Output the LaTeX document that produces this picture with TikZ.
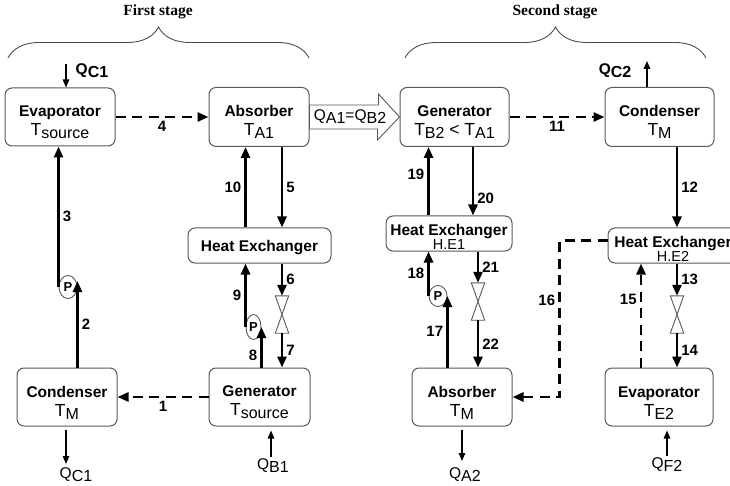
\documentclass[tikz,border=0pt]{standalone}
\usepackage{fontspec}
\setmainfont{Liberation Sans}
\newfontfamily\stagefont{Liberation Serif}
\usetikzlibrary{shapes.geometric, arrows.meta}
\usetikzlibrary{positioning}
\usetikzlibrary{decorations.pathreplacing}
\tikzstyle{unit} = [rectangle, rounded corners=7pt, draw=black!65, line width=1pt, align=center,
inner sep=0pt, font=\fontsize{17.5}{19}\selectfont]
\tikzstyle{exch} = [unit, font=\fontsize{14.5}{13}\selectfont]
\tikzstyle{flow} = [line width=2.6pt, -{Triangle[length=11pt,width=9pt]}]
\tikzstyle{vapour} = [flow, line width=2.8pt, dash pattern=on 10pt off 6.5pt]
\tikzstyle{heat} = [line width=1.2pt, -{Triangle[length=8pt,width=6.5pt]}]
\tikzstyle{num} = [font=\bfseries\fontsize{15}{15}\selectfont, inner sep=3pt]
\tikzstyle{qlabel} = [font=\fontsize{15.5}{15.5}\selectfont, inner sep=0pt]
\tikzstyle{pump} = [ellipse, draw=black!65, line width=0.9pt, fill=white, inner sep=0pt,
minimum width=18pt, minimum height=23pt, font=\bfseries\fontsize{13}{13}\selectfont]
\tikzstyle{valve} = [rectangle, inner sep=0pt, minimum width=13pt, minimum height=37pt]
\tikzstyle{valveline} = [draw=black!65, line width=0.9pt, fill=white]
\tikzstyle{stage} = [font=\stagefont\bfseries\fontsize{15.5}{15.5}\selectfont, inner sep=0pt]
\newcommand{\ttl}[2][22pt]{{\bfseries\fontsize{15.5}{19}\selectfont\rule{0pt}{#1}#2}}
\newcommand{\sym}[2]{#1\raisebox{-3pt}{\fontsize{16}{16}\selectfont #2}}

\begin{document}
\begin{tikzpicture}[x=1pt, y=-1pt]
  \useasboundingbox (0,0) rectangle (730,486);

  % first stage
  \node (evapA) [unit, minimum width=110pt, minimum height=58pt] at (60,117) {\ttl{Evaporator}\\\sym{T}{source}};
  \node (absA) [unit, minimum width=100pt, minimum height=59pt] at (259,117) {\ttl{Absorber}\\\sym{T}{A1}};
  \node (hexA) [exch, minimum width=143pt, minimum height=35pt] at (259.5,245.5) {\ttl[16pt]{Heat Exchanger}};
  \node (condA) [unit, minimum width=100pt, minimum height=58pt] at (67,397) {\ttl{Condenser}\\\sym{T}{M}};
  \node (genA) [unit, minimum width=101pt, minimum height=58pt] at (259.5,397) {\ttl{Generator}\\\sym{T}{source}};
  \node (pumpA) [pump] at (68,287) {P};
  \node (pumpB) [pump, minimum width=15pt, minimum height=25pt] at (253.5,327) {P};
  \node (valveA) [valve] at (282,314.5) {};

  % second stage
  \node (genB) [unit, minimum width=109pt, minimum height=59pt] at (454.5,117) {\ttl{Generator}\\\sym{T}{B2} < \sym{T}{A1}};
  \node (condB) [unit, minimum width=109pt, minimum height=59pt] at (659.5,117) {\ttl{Condenser}\\\sym{T}{M}};
  \node (hexB) [exch, minimum width=126pt, minimum height=35pt] at (449,233.5) {\ttl[18pt]{Heat Exchanger}\\H.E1};
  \node (hexC) [exch, minimum width=130pt, minimum height=35pt] at (673,245.5) {\ttl[18pt]{Heat Exchanger}\\H.E2};
  \node (absB) [unit, minimum width=100pt, minimum height=58pt] at (462,397) {\ttl{Absorber}\\\sym{T}{M}};
  \node (evapB) [unit, minimum width=108pt, minimum height=58pt] at (659,397) {\ttl{Evaporator}\\\sym{T}{E2}};
  \node (pumpC) [pump, minimum height=21pt] at (438,296) {P};
  \node (valveB) [valve] at (478,301.5) {};
  \node (valveC) [valve] at (677,314.5) {};

  \foreach \v in {valveA, valveB, valveC}
  \draw[valveline] (\v.north west) -- (\v.north east) -- (\v.south west) -- (\v.south east) -- cycle;

  % stage braces
  \node (stageA) [stage] at (158,12) {First stage};
  \node (stageB) [stage] at (555,12) {Second stage};
  \draw[decorate, decoration={brace, amplitude=31pt}, line width=0.9pt, black!70] (8,58) -- (309,58);
  \draw[decorate, decoration={brace, amplitude=31pt}, line width=0.9pt, black!70] (405,58) -- (706,58);

  % heat flows
  \node (qC1in) [qlabel, font=\bfseries\fontsize{15.5}{15.5}\selectfont] at (92,71) {\sym{Q}{C1}};
  \node (qC1out) [qlabel] at (76,475) {\sym{Q}{C1}};
  \node (qB1) [qlabel] at (273,466) {\sym{Q}{B1}};
  \node (qC2) [qlabel, font=\bfseries\fontsize{15.5}{15.5}\selectfont] at (615,71) {\sym{Q}{C2}};
  \node (qA2) [qlabel] at (465,475) {\sym{Q}{A2}};
  \node (qF2) [qlabel] at (667,465) {\sym{Q}{F2}};
  \coordinate (qC1inEnd) at (66,64);
  \coordinate (qC1outEnd) at (66,464);
  \coordinate (qB1End) at (271,457);
  \coordinate (qC2End) at (647,61);
  \coordinate (qA2End) at (462,461);
  \coordinate (qF2End) at (667,456);
  \draw[heat] (qC1inEnd) -- (qC1inEnd |- evapA.north);
  \draw[heat, shorten <=3pt] (qC1outEnd |- condA.south) -- (qC1outEnd);
  \draw[heat, shorten >=4pt] (qB1End) -- (qB1End |- genA.south);
  \draw[heat] (qC2End |- condB.north) -- (qC2End);
  \draw[heat, shorten <=3pt] (qA2End |- absB.south) -- (qA2End);
  \draw[heat, shorten >=4pt] (qF2End) -- (qF2End |- evapB.south);

  % Q_A1 = Q_B2
  \draw[line width=0.9pt, black!65, fill=white] ([yshift=12pt]absA.east) -- ++(69,0) -- ++(0,-11)
  -- (genB.west) -- ++(-22,23) -- ++(0,-11) -- ([yshift=-12pt]absA.east) -- cycle;
  \node (qAB) [qlabel] at (350,117) {\sym{Q}{A1}=\sym{Q}{B2}};

  % first stage lines
  \draw[vapour] (genA) -- node[num, below] {1} (condA);
  \draw[flow] (pumpA.east |- condA.north) -- node[num, right] {2} ([yshift=6pt]pumpA.east);
  \draw[flow] (pumpA.west) -- node[num, right] {3} (pumpA.west |- evapA.south);
  \draw[vapour] (evapA) -- node[num, below] {4} (absA);
  \draw[flow] (absA.south -| valveA) -- node[num, right] {5} (hexA.north -| valveA);
  \draw[flow] (hexA.south -| valveA) -- node[num, right] {6} (valveA.north);
  \draw[flow] (valveA.south) -- node[num, right] {7} (genA.north -| valveA);
  \draw[flow] (genA.north -| pumpB.east) -- node[num, left, pos=0.3] {8} (pumpB.east);
  \draw[flow] (pumpB.west) -- node[num, left] {9} (hexA.south -| pumpB.west);
  \draw[flow] (hexA.north -| pumpB.west) -- node[num, left] {10} (absA.south -| pumpB.west);

  % second stage lines
  \draw[vapour] (genB) -- node[num, below] {11} (condB);
  \draw[flow] (condB.south -| valveC) -- node[num, right] {12} (hexC.north -| valveC);
  \draw[flow] (hexC.south -| valveC) -- node[num, right] {13} (valveC.north);
  \draw[flow] (valveC.south) -- node[num, right] {14} (evapB.north -| valveC);
  \draw[vapour] ([xshift=-18pt]evapB.north) -- node[num, left, pos=0.65] {15} ([xshift=-18pt]evapB.north |- hexC.south);
  \draw[vapour] ([yshift=5pt]hexC.west) -- ++(-48,0) |- node[num, left, pos=0.19] {16} (absB.east);
  \draw[flow] (absB.north -| pumpC.east) -- node[num, left] {17} (pumpC.east);
  \draw[flow] (pumpC.west) -- node[num, left] {18} (hexB.south -| pumpC.west);
  \draw[flow] (hexB.north -| pumpC.west) -- node[num, left, pos=0.6] {19} (genB.south -| pumpC.west);
  \draw[flow] ([xshift=-5pt]genB.south -| valveB) -- node[num, right, pos=0.75] {20} ([xshift=-5pt]hexB.north -| valveB);
  \draw[flow] (hexB.south -| valveB) -- node[num, right] {21} (valveB.north);
  \draw[flow] (valveB.south) -- node[num, right] {22} (absB.north -| valveB);
\end{tikzpicture}
\end{document}
